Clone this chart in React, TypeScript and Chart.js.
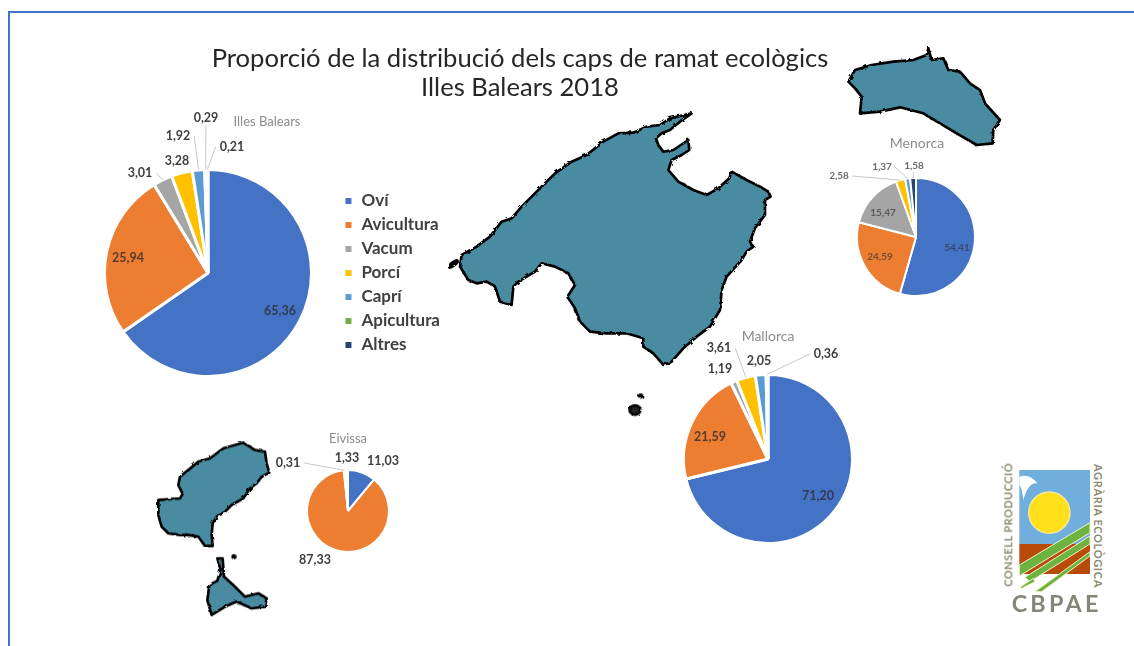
import React, { useEffect, useRef } from "react";
import { Chart, registerables } from "chart.js";

Chart.register(...registerables);

const categories = ["Oví", "Avicultura", "Vacum", "Porcí", "Caprí", "Apicultura", "Altres"];
const colors = ["#4472C4", "#ED7D31", "#A5A5A5", "#FFC000", "#5B9BD5", "#70AD47", "#264478"];
const eivissaColors = ["#4472C4", "#ED7D31", "#A5A5A5", "#FFFFFF", "#FFFFFF", "#70AD47", "#264478"];

const balearsValues = [65.36, 25.94, 3.01, 3.28, 1.92, 0.29, 0.21];
const mallorcaValues = [71.2, 21.59, 1.19, 3.61, 2.05, 0.36, 0];
const menorcaValues = [54.41, 24.59, 15.47, 2.58, 1.37, 0, 1.58];
const eivissaValues = [11.03, 87.33, 0, 0.31, 1.33, 0, 0];

const balearsLabels = ["65,36", "25,94", "3,01", "3,28", "1,92", "0,29", "0,21"];
const mallorcaLabels = ["71,20", "21,59", "1,19", "3,61", "2,05", "0,36", ""];
const menorcaLabels = ["54,41", "24,59", "15,47", "2,58", "1,37", "", "1,58"];
const eivissaLabels = ["11,03", "87,33", "", "0,31", "1,33", "", ""];

type Spot = { dx: number; dy: number; leader?: boolean } | null;
const balearsSpots: Spot[] = [
  { dx: 72, dy: 38 }, { dx: -80, dy: -15 }, { dx: -68, dy: -100, leader: true },
  { dx: -31, dy: -112 }, { dx: -30, dy: -137, leader: true }, { dx: -2, dy: -155, leader: true },
  { dx: 24, dy: -126, leader: true },
];
const mallorcaSpots: Spot[] = [
  { dx: 50, dy: 37 }, { dx: -58, dy: -22 }, { dx: -48, dy: -90 },
  { dx: -49, dy: -111, leader: true }, { dx: -9, dy: -98 }, { dx: 58, dy: -105, leader: true }, null,
];
const menorcaSpots: Spot[] = [
  { dx: 41, dy: 11 }, { dx: -36, dy: 20 }, { dx: -33, dy: -24 }, { dx: -77, dy: -61, leader: true },
  { dx: -34, dy: -70, leader: true }, null, { dx: -2, dy: -71, leader: true },
];
const eivissaSpots: Spot[] = [
  { dx: 35, dy: -50 }, { dx: -33, dy: 49 }, null, { dx: -60, dy: -48, leader: true },
  { dx: -1, dy: -53 }, null, null,
];

const mallorcaOutline = "65,465 110,440 150,410 185,365 215,355 245,320 275,290 320,245 345,220 395,185 440,165 490,125 535,100 580,98 620,80 660,75 690,55 755,40 720,65 690,90 665,100 648,115 655,135 670,155 700,150 745,120 748,150 725,165 695,180 685,210 715,245 760,270 800,285 835,265 868,235 875,215 920,240 960,260 985,275 992,290 975,300 975,345 945,385 930,425 940,440 920,455 905,480 860,530 845,570 840,630 810,680 770,710 730,745 695,785 670,795 640,760 610,740 610,715 560,700 500,700 450,695 420,665 405,625 382,590 405,555 385,520 345,500 305,490 285,515 235,545 220,560 215,615 180,605 165,560 140,545 110,550 85,540 60,500";
const menorcaOutline = "145,155 165,120 215,105 280,95 340,90 380,75 385,55 395,90 430,85 445,120 480,125 510,160 540,180 555,220 600,270 580,300 578,340 530,345 470,310 420,280 370,250 300,232 240,245 180,250 185,200 165,175";
const eivissaOutline = "85,240 150,235 158,222 145,195 150,170 175,150 205,125 240,115 280,85 340,68 375,90 405,95 410,130 418,158 395,170 380,190 360,205 340,235 305,255 285,275 260,290 248,310 245,345 248,378 225,378 205,350 175,345 150,345 115,340 95,320 85,285";
const formenteraOutline = "262,415 278,415 282,470 310,495 345,530 385,520 410,535 405,560 365,565 320,545 285,560 245,585 232,540 238,495 262,482 272,450";

const FONT = 'Lato, "Open Sans", sans-serif';

const calloutPlugin = {
  id: "callouts",
  afterDatasetsDraw(chart: any, _a: any, opts: any) {
    const { ctx } = chart;
    const arcs = chart.getDatasetMeta(0).data;
    const spots: Spot[] = opts.spots;
    const labels: string[] = opts.labels;
    ctx.save();
    arcs.forEach((arc: any, i: number) => {
      const s = spots[i];
      if (!s) return;
      const x = arc.x + s.dx;
      const y = arc.y + s.dy;
      if (s.leader) {
        const mid = (arc.startAngle + arc.endAngle) / 2;
        const ex = arc.x + Math.cos(mid) * arc.outerRadius;
        const ey = arc.y + Math.sin(mid) * arc.outerRadius;
        ctx.strokeStyle = "#c8c8c8";
        ctx.lineWidth = 1;
        ctx.beginPath();
        ctx.moveTo(ex, ey);
        const onLeft = x < ex - 15;
        const onRight = x > ex + 15;
        ctx.lineTo(
          onLeft ? x + opts.size * 1.3 : onRight ? x - opts.size * 1.3 : x,
          onLeft || onRight ? y : y + opts.size * 0.6
        );
        ctx.stroke();
      }
      const inside = Math.hypot(s.dx, s.dy) < arc.outerRadius;
      ctx.font = `bold ${opts.size}px ${FONT}`;
      ctx.fillStyle = inside ? opts.inner : opts.color;
      ctx.textAlign = "center";
      ctx.textBaseline = "middle";
      ctx.fillText(labels[i], x, y);
    });
    ctx.restore();
  },
};

function Pie({ values, labels, spots, left, top, width, height, size, color, inner, legend, padding, border, palette }: any) {
  const ref = useRef<HTMLCanvasElement>(null);
  useEffect(() => {
    const chart = new Chart(ref.current!, {
      type: "pie",
      data: {
        labels: categories,
        datasets: [{ data: values, backgroundColor: palette || colors, borderColor: "#ffffff", borderWidth: border }],
      },
      plugins: [calloutPlugin],
      options: {
        animation: false,
        responsive: false,
        layout: { padding },
        plugins: {
          tooltip: { enabled: false },
          legend: legend
            ? {
                display: true,
                position: "right",
                labels: {
                  boxWidth: 9,
                  boxHeight: 9,
                  padding: 7,
                  color: "#404040",
                  font: { size: 17, weight: "bold", family: FONT },
                },
              }
            : { display: false },
          callouts: { spots, labels, size, color, inner },
        } as any,
      },
    } as any);
    return () => chart.destroy();
  }, []);
  return (
    <canvas
      ref={ref}
      width={width}
      height={height}
      style={{ position: "absolute", left, top, width, height }}
    />
  );
}

const caption = (text: string, x: number, y: number, size: number) => (
  <div style={{ position: "absolute", left: x - 80, top: y - 12, width: 160, height: 24, lineHeight: "24px", textAlign: "center", fontSize: size, color: "#8c8c8c", fontFamily: FONT }}>{text}</div>
);

export default function App() {
  return (
    <div style={{ position: "absolute", left: 0, top: 0, width: 1134, height: 646, overflow: "hidden", background: "#fff", filter: "blur(0.5px)" }}>
      <div style={{ position: "absolute", left: 8, top: 11, width: 1130, height: 640, borderLeft: "2.5px solid #4472C4", borderTop: "2px solid #4472C4" }} />
      <svg width={1134} height={646} style={{ position: "absolute", left: 0, top: 0 }}>
        <defs>
          <filter id="coast" x="-5%" y="-5%" width="110%" height="110%">
            <feTurbulence type="fractalNoise" baseFrequency="0.22" numOctaves={2} seed={4} />
            <feDisplacementMap in="SourceGraphic" scale={3} />
          </filter>
        </defs>
        <g fill="#4A8BA0" stroke="#000" strokeWidth={8} strokeLinejoin="round" filter="url(#coast)">
          <g transform="translate(440,100) scale(0.3333)">
            <polygon points={mallorcaOutline} />
            <ellipse cx={40} cy={492} rx={16} ry={5} fill="#000" transform="rotate(-38 40 492)" />
            <ellipse cx={585} cy={930} rx={16} ry={14} fill="#222" />
            <circle cx={602} cy={888} r={4} fill="#000" />
          </g>
          <g transform="translate(800,30) scale(0.3333)"><polygon points={menorcaOutline} /></g>
          <g transform="translate(130,420) scale(0.3333)">
            <polygon points={eivissaOutline} />
            <polygon points={formenteraOutline} />
            <circle cx={312} cy={410} r={4} fill="#000" />
          </g>
        </g>
        <g transform="translate(980,450) scale(0.3333)">
          <rect x={118} y={60} width={212} height={222} fill="#6FAEDD" />
          <rect x={118} y={282} width={212} height={90} fill="#B84A0A" />
          <path d="M118,80 Q150,70 172,100 Q145,95 130,150 Q125,110 118,105 Z" fill="#fff" />
          <circle cx={208} cy={188} r={62} fill="#FFE01A" stroke="#F4E9A0" strokeWidth={4} />
          <g stroke="#F2EFC8" strokeWidth={3} fill="#6DB33F">
            <polygon points="118,345 330,218 330,248 118,378" />
            <polygon points="135,382 330,258 330,282 150,395" />
            <polygon points="120,412 160,385 165,395 125,415" />
            <polygon points="165,425 330,305 330,318 185,425" />
          </g>
          <text transform="translate(98,410) rotate(-90)" fontFamily={FONT} fontWeight={700} fontSize={33} fill="#8A8A70" textLength={370}>CONSELL PRODUCCIÓ</text>
          <text transform="translate(342,42) rotate(90)" fontFamily={FONT} fontWeight={700} fontSize={33} fill="#8A8A70" textLength={370}>AGRÀRIA ECOLÒGICA</text>
          <text x={95} y={487} fontFamily={FONT} fontWeight={700} fontSize={70} fill="#85857A" textLength={260}>CBPAE</text>
        </g>
      </svg>
      <div style={{ position: "absolute", left: 120, top: 43, width: 800, textAlign: "center", fontFamily: FONT, fontSize: 25.6, lineHeight: "29px", color: "#262626" }}>
        Proporció de la distribució dels caps de ramat ecològics<br />Illes Balears 2018
      </div>
      {caption("Illes Balears", 267, 121, 13)}
      {caption("Menorca", 917, 143, 14)}
      {caption("Mallorca", 768, 336, 14)}
      {caption("Eivissa", 348, 438, 13)}
      <Pie values={balearsValues} labels={balearsLabels} spots={balearsSpots} left={79} top={100} width={371} height={346} size={12.5} color="#404040" inner="rgba(45,45,50,0.8)" legend border={3} padding={{ top: 68, bottom: 68 }} />
      <Pie values={mallorcaValues} labels={mallorcaLabels} spots={mallorcaSpots} left={650} top={313} width={236} height={232} size={12.5} color="#404040" inner="rgba(45,45,50,0.8)" border={3} padding={{ top: 60 }} />
      <Pie values={menorcaValues} labels={menorcaLabels} spots={menorcaSpots} left={830} top={117} width={172} height={180} size={10} color="#6b6b6b" inner="rgba(50,50,60,0.65)" border={2} padding={{ top: 60 }} />
      <Pie values={eivissaValues} labels={eivissaLabels} spots={eivissaSpots} left={270} top={410} width={156} height={182} size={12.5} color="#404040" inner="rgba(45,45,50,0.8)" border={2} palette={eivissaColors} padding={{ top: 59, bottom: 39 }} />
    </div>
  );
}
